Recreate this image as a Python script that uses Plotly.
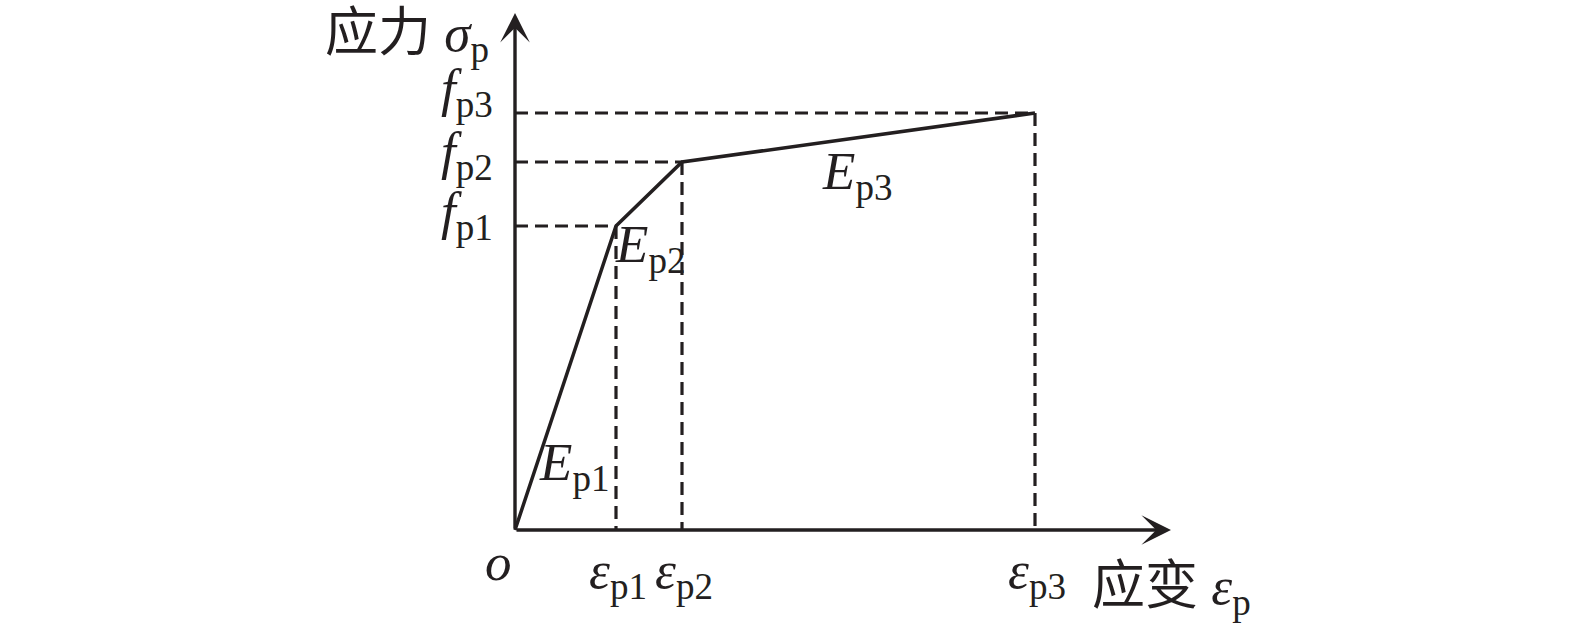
import plotly.graph_objects as go

# Data (strain and stress of the three-segment constitutive model, arbitrary units)
eps_p = [0.0, 1.01, 1.67, 5.20]
f_p = [0.0, 3.04, 3.68, 4.17]
eps_labels = ["<i>ε</i><sub>p1</sub>", "<i>ε</i><sub>p2</sub>", "<i>ε</i><sub>p3</sub>"]
f_labels = ["<i>f</i><sub>p1</sub>", "<i>f</i><sub>p2</sub>", "<i>f</i><sub>p3</sub>"]
E_labels = ["<i>E</i><sub>p1</sub>", "<i>E</i><sub>p2</sub>", "<i>E</i><sub>p3</sub>"]
x_axis_end = 6.56
y_axis_end = 5.17

W, H = 1575, 634
X0PX, Y0PX, SCALE = 515, 530, 100.0
xr = [-X0PX / SCALE, (W - X0PX) / SCALE]
yr = [-(H - Y0PX) / SCALE, Y0PX / SCALE]

INK = "#231f20"
FONT = "Liberation Serif, Times New Roman, Noto Sans CJK SC, serif"

fig = go.Figure()

# dashed guides
for e, f in zip(eps_p[1:], f_p[1:]):
    fig.add_trace(go.Scatter(x=[0, e], y=[f, f], mode="lines",
                             line=dict(color=INK, width=3.2, dash="13px,7px"),
                             hoverinfo="skip", showlegend=False))
    fig.add_trace(go.Scatter(x=[e, e], y=[f, 0], mode="lines",
                             line=dict(color=INK, width=3.2, dash="13px,7px"),
                             hoverinfo="skip", showlegend=False))

# main curve
fig.add_trace(go.Scatter(x=eps_p, y=f_p, mode="lines",
                         line=dict(color=INK, width=3.5),
                         hoverinfo="skip", showlegend=False))

ann = []
# axes with arrows
for tx, ty in [(x_axis_end, 0), (0, y_axis_end)]:
    ann.append(dict(x=tx, y=ty, ax=0, ay=0, xref="x", yref="y", axref="x", ayref="y",
                    showarrow=True, arrowhead=3, arrowsize=1.45, arrowwidth=3.4, arrowcolor=INK,
                    standoff=0, text=""))

big = dict(family=FONT, size=53, color=INK)

f_label_dy = [11, 7, 21]
for lab, f, dy in zip(f_labels, f_p[1:], f_label_dy):
    ann.append(dict(x=0, y=f, xref="x", yref="y", text=lab, showarrow=False,
                    xanchor="right", yanchor="middle", xshift=-20, yshift=dy, font=big))

for lab, e in zip(eps_labels, eps_p[1:]):
    ann.append(dict(x=e, y=0, xref="x", yref="y", text=lab, showarrow=False,
                    xanchor="center", yanchor="top", xshift=2, yshift=-9, font=big))

ann.append(dict(x=0, y=0, xref="x", yref="y", text="<i>o</i>", showarrow=False,
                xanchor="center", yanchor="middle", xshift=-17, yshift=-32, font=big))

ann.append(dict(x=eps_p[3], y=0, xref="x", yref="y", text="应变 <i>ε</i><sub>p</sub>", showarrow=False,
                xanchor="left", yanchor="middle", xshift=55, yshift=-60, font=big))

ann.append(dict(x=0, y=f_p[3], xref="x", yref="y", text="应力 <i>σ</i><sub>p</sub>", showarrow=False,
                xanchor="right", yanchor="middle", xshift=-24, yshift=76, font=big))

ann.append(dict(x=0.59, y=0.64, xref="x", yref="y", text=E_labels[0], showarrow=False,
                xanchor="center", yanchor="middle", font=big))
ann.append(dict(x=eps_p[1], y=f_p[1], xref="x", yref="y", text=E_labels[1], showarrow=False,
                xanchor="center", yanchor="middle", xshift=34, yshift=-22, font=big))
ann.append(dict(x=3.42, y=3.55, xref="x", yref="y", text=E_labels[2], showarrow=False,
                xanchor="center", yanchor="middle", font=big))

fig.update_layout(
    width=W, height=H, margin=dict(l=0, r=0, t=0, b=0),
    paper_bgcolor="white", plot_bgcolor="white",
    xaxis=dict(range=xr, visible=False, fixedrange=True),
    yaxis=dict(range=yr, visible=False, fixedrange=True),
    annotations=ann, showlegend=False,
)

fig.write_html("out.html",
               config={"displayModeBar": False, "staticPlot": True},
               post_script="document.body.style.margin='0';document.body.style.overflow='hidden';")
